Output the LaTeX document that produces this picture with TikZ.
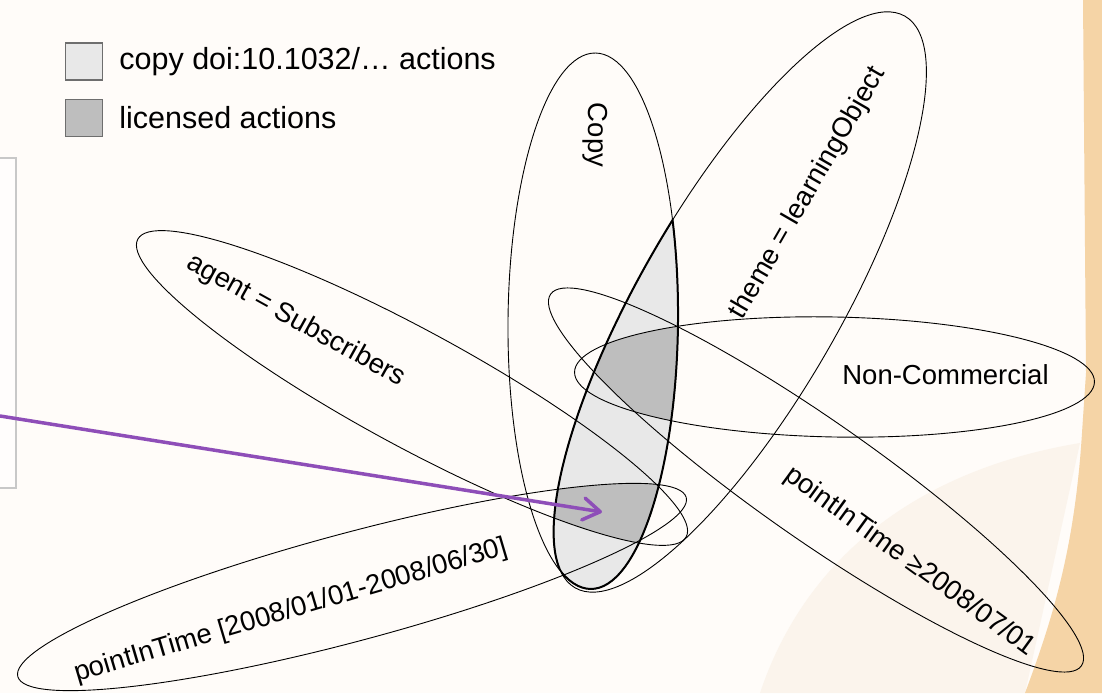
\documentclass[tikz,border=0pt]{standalone}
\usepackage{fontspec}
\setmainfont{Liberation Sans}
\usetikzlibrary{positioning,arrows.meta}

\definecolor{copygrey}{RGB}{232,232,232}
\definecolor{licgrey}{RGB}{190,190,190}
\definecolor{boxline}{RGB}{110,110,110}
\definecolor{arrowpurple}{RGB}{142,78,184}
\definecolor{paper}{RGB}{255,252,249}
\definecolor{tanband}{RGB}{245,212,166}
\definecolor{wash}{RGB}{242,226,206}
\definecolor{framegrey}{RGB}{200,200,200}

% the sets
\newcommand{\setCopy}{[rotate around={-0.5:(593,372)}] (593,372) ellipse [x radius=85pt, y radius=268pt]}
\newcommand{\setTheme}{[rotate around={60:(740,391)}] (740,391) ellipse [x radius=330pt, y radius=100pt]}
\newcommand{\setAgent}{[rotate around={-28.5:(412,305)}] (412,305) ellipse [x radius=312pt, y radius=58pt]}
\newcommand{\setEarly}{[rotate around={15:(352,106)}] (352,106) ellipse [x radius=346pt, y radius=54pt]}
\newcommand{\setLate}{[rotate around={-35:(816,213)}] (816,213) ellipse [x radius=324pt, y radius=59pt]}
\newcommand{\setNonCom}{[rotate around={-1.1:(834.5,316)}] (834.5,316) ellipse [x radius=260pt, y radius=60pt]}

\begin{document}
\begin{tikzpicture}[
      x=1pt, y=1pt,
      set/.style={draw, line width=0.9pt},
      lbl/.style={font=\fontsize{27.5}{33}\selectfont, inner sep=0pt},
      legendbox/.style={draw=boxline, line width=1.4pt, minimum width=37pt,
        minimum height=37pt, inner sep=0pt},
      legendtext/.style={font=\fontsize{30.5}{36}\selectfont, inner sep=0pt},
      >={Straight Barb[length=17pt,width=22pt,round]}
    ]
    \useasboundingbox (0,0) rectangle (1102,693);

    % Background
    \fill[paper] (0,0) rectangle (1102,693);
    \fill[wash, opacity=0.3] (760,0) .. controls (800,120) and (900,220) .. (1080,250)
      -- (1025,0) -- cycle;
    \fill[tanband] (1083,693) -- (1102,693) -- (1102,0) -- (1025,0)
      .. controls (1055,80) and (1075,150) .. (1082,260) -- (1086,320) -- cycle;
    \draw[framegrey, line width=1.5pt, fill=white, fill opacity=0.6] (-10,205) rectangle (16,535);

    % Shaded regions
    \begin{scope}
      \clip \setCopy;
      \fill[copygrey] \setTheme;
    \end{scope}
    \begin{scope}
      \clip \setCopy;
      \clip \setTheme;
      \clip \setNonCom;
      \fill[licgrey] \setLate;
    \end{scope}
    \begin{scope}
      \clip \setCopy;
      \clip \setTheme;
      \clip \setAgent;
      \fill[licgrey] \setEarly;
    \end{scope}
    \begin{scope}
      \clip \setTheme;
      \draw[line width=2pt] \setCopy;
    \end{scope}
    \begin{scope}
      \clip \setCopy;
      \draw[line width=2pt] \setTheme;
    \end{scope}

    % Outlines
    \draw[set] \setCopy;
    \draw[set] \setTheme;
    \draw[set] \setAgent;
    \draw[set] \setEarly;
    \draw[set] \setLate;
    \draw[set] \setNonCom;

    % Labels
    \node[lbl, rotate=-90] (copy) at (595,558) {Copy};
    \node[lbl, rotate=60] (theme) at (808,500) {theme = learningObject};
    \node[lbl, rotate=-29] (agent) at (296,372) {agent = Subscribers};
    \node[lbl] (noncom) at (945.5,318) {Non-Commercial};
    \node[lbl, rotate=-36] (late) at (910,131) {pointInTime ≥2008/07/01};
    \node[lbl, rotate=16.5] (early) at (291,82) {pointInTime [2008/01/01-2008/06/30]};

    % Legend
    \node[legendbox, fill=copygrey] (keycopy) at (84,631.5) {};
    \node[legendbox, fill=licgrey, below=18pt of keycopy] (keylic) {};
    \node[legendtext, right=16pt of keycopy] (txtcopy) {copy doi:10.1032/… actions};
    \node[legendtext, right=16pt of keylic] (txtlic) {licensed actions};

    % Pointer
    \coordinate (src) at (0,277);
    \coordinate (licpoint) at (602,181);
    \draw[->, arrowpurple, line width=3.5pt] (src) -- (licpoint);
  \end{tikzpicture}
\end{document}
